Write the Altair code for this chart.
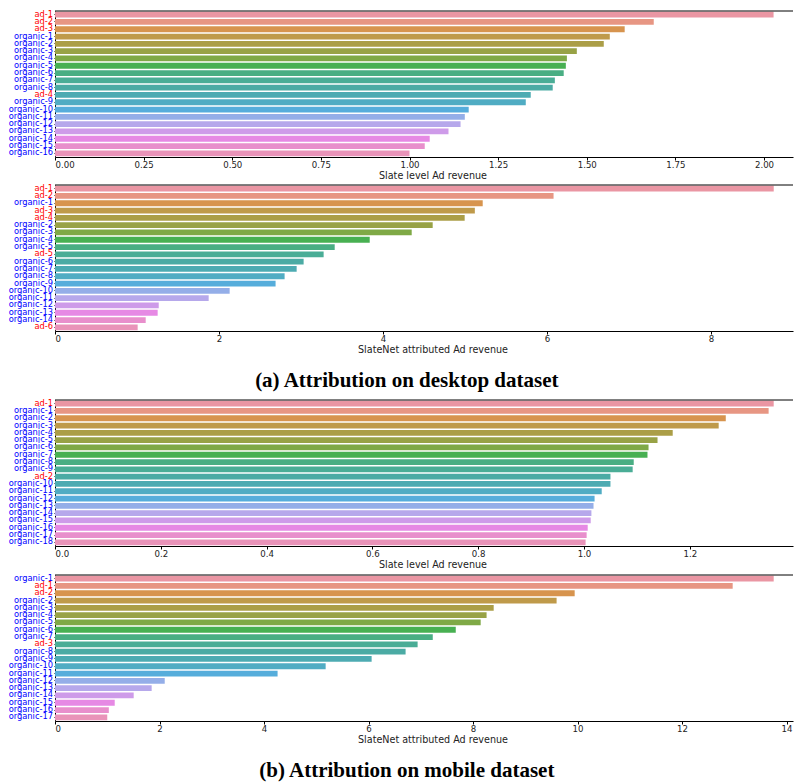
import math
import colorsys
import altair as alt
import pandas as pd

# ---------------- data ----------------
p1_labels = ["ad-1", "ad-2", "ad-3", "organic-1", "organic-2", "organic-3", "organic-4",
             "organic-5", "organic-6", "organic-7", "organic-8", "ad-4", "organic-9",
             "organic-10", "organic-11", "organic-12", "organic-13", "organic-14",
             "organic-15", "organic-16"]
p1_values = [2.027, 1.689, 1.607, 1.565, 1.548, 1.472, 1.444, 1.441, 1.435, 1.410,
             1.404, 1.342, 1.328, 1.167, 1.156, 1.144, 1.110, 1.057, 1.043, 1.000]

p2_labels = ["ad-1", "ad-2", "organic-1", "ad-3", "ad-4", "organic-2", "organic-3",
             "organic-4", "organic-5", "ad-5", "organic-6", "organic-7", "organic-8",
             "organic-9", "organic-10", "organic-11", "organic-12", "organic-13",
             "organic-14", "ad-6"]
p2_values = [8.765, 6.08, 5.216, 5.12, 4.996, 4.606, 4.35, 3.838, 3.411, 3.276,
             3.032, 2.947, 2.80, 2.69, 2.13, 1.874, 1.265, 1.252, 1.106, 1.008]

p3_labels = ["ad-1", "organic-1", "organic-2", "organic-3", "organic-4", "organic-5",
             "organic-6", "organic-7", "organic-8", "organic-9", "ad-2", "organic-10",
             "organic-11", "organic-12", "organic-13", "organic-14", "organic-15",
             "organic-16", "organic-17", "organic-18"]
p3_values = [1.3586, 1.349, 1.268, 1.2546, 1.1677, 1.139, 1.122, 1.120, 1.094, 1.092,
             1.050, 1.050, 1.0335, 1.020, 1.018, 1.014, 1.0127, 1.007, 1.005, 1.003]

p4_labels = ["organic-1", "ad-1", "ad-2", "organic-2", "organic-3", "organic-4",
             "organic-5", "organic-6", "organic-7", "ad-3", "organic-8", "organic-9",
             "organic-10", "organic-11", "organic-12", "organic-13", "organic-14",
             "organic-15", "organic-16", "organic-17"]
p4_values = [13.755, 12.97, 9.946, 9.60, 8.396, 8.26, 8.147, 7.67, 7.23, 6.94,
             6.71, 6.06, 5.18, 4.26, 2.10, 1.85, 1.506, 1.143, 1.03, 1.0]

p1_ticks = [0, 0.25, 0.5, 0.75, 1.0, 1.25, 1.5, 1.75, 2.0]
p2_ticks = [0, 2, 4, 6, 8]
p3_ticks = [0, 0.2, 0.4, 0.6, 0.8, 1.0, 1.2, 1.4]
p4_ticks = [0, 2, 4, 6, 8, 10, 12, 14]

title_slate = "Slate level Ad revenue"
title_net = "SlateNet attributed Ad revenue"
caption_a = "(a) Attribution on desktop dataset"
caption_b = "(b) Attribution on mobile dataset"

# ---------------- husl palette (seaborn style) ----------------
_M = [[3.2406, -1.5372, -0.4986],
      [-0.9689, 1.8758, 0.0415],
      [0.0557, -0.2040, 1.0570]]
_refU, _refV = 0.19784, 0.46834


def _max_chroma(L, H):
    hrad = math.radians(H)
    sinH, cosH = math.sin(hrad), math.cos(hrad)
    sub1 = ((L + 16) ** 3) / 1560896.0
    sub2 = sub1 if sub1 > 0.008856 else L / 903.3
    result = float("inf")
    for m1, m2, m3 in _M:
        top = (0.99915 * m1 + 1.05122 * m2 + 1.14460 * m3) * sub2
        rbottom = 0.86330 * m3 - 0.17266 * m2
        lbottom = 0.12949 * m3 - 0.38848 * m1
        bottom = (rbottom * sinH + lbottom * cosH) * sub2
        for t in (0.0, 1.0):
            C = L * (top - 1.05122 * t) / (bottom + 0.17266 * sinH * t)
            if 0.0 < C < result:
                result = C
    return result


def _husl_to_rgb(H, S, L):
    C = _max_chroma(L, H) / 100.0 * S
    hr = math.radians(H)
    U, V = math.cos(hr) * C, math.sin(hr) * C
    t = (L + 16.0) / 116.0
    varY = t ** 3 if t ** 3 > 0.008856 else (116.0 * t - 16.0) / 903.3
    varU = U / (13.0 * L) + _refU
    varV = V / (13.0 * L) + _refV
    Y = varY
    X = 0.0 - (9.0 * Y * varU) / ((varU - 4.0) * varV - varU * varV)
    Z = (9.0 * Y - (15.0 * varV * Y) - (varV * X)) / (3.0 * varV)
    out = []
    for row in _M:
        c = row[0] * X + row[1] * Y + row[2] * Z
        c = 12.92 * c if c <= 0.0031308 else 1.055 * c ** (1 / 2.4) - 0.055
        out.append(min(max(c, 0.0), 1.0))
    return out


def husl_palette(n, h=0.01, s=0.9, l=0.7, sat=0.75):
    cols = []
    for i in range(n):
        hue = ((i / n + h) % 1) * 359
        r, g, b = _husl_to_rgb(hue, s * 99, l * 99)
        hh, ll, ss = colorsys.rgb_to_hls(r, g, b)
        r, g, b = colorsys.hls_to_rgb(hh, ll, ss * sat)
        cols.append("#%02x%02x%02x" % tuple(int(round(v * 255)) for v in (r, g, b)))
    return cols


# ---------------- chart ----------------
W = 738
H = 146
TITLE_X = 377.5

label_color = {"condition": {"test": "indexof(datum.value, 'ad-') === 0", "value": "#ff0000"},
               "value": "#0000ff"}


def panel(labels, values, xmax, ticks, fmt, title):
    df = pd.DataFrame({"label": labels, "value": values})
    pal = husl_palette(len(labels))
    bars = alt.Chart(df).mark_bar().encode(
        x=alt.X("value:Q",
                scale=alt.Scale(domain=[0, xmax], nice=False, zero=True),
                axis=alt.Axis(values=ticks, format=fmt, title=title, titleX=TITLE_X,
                              grid=False)),
        y=alt.Y("label:N", sort=labels,
                scale=alt.Scale(paddingInner=0.2, paddingOuter=0.1),
                axis=alt.Axis(title=None, labelColor=label_color, grid=False)),
        color=alt.Color("label:N", scale=alt.Scale(domain=labels, range=pal), legend=None),
    )
    top = alt.Chart(pd.DataFrame({"v": [0]})).mark_rule(color="black", strokeWidth=1).encode(
        x=alt.value(0), x2=alt.value(W), y=alt.value(0)
    )
    return alt.layer(bars, top).properties(width=W, height=H)


p1 = panel(p1_labels, p1_values, W / 354.5, p1_ticks, ".2f", title_slate)
p2 = panel(p2_labels, p2_values, W / 82.0, p2_ticks, "d", title_net)
p3 = panel(p3_labels, p3_values, W / 529.0, p3_ticks, ".1f", title_slate)
p4 = panel(p4_labels, p4_values, W / 52.25, p4_ticks, "d", title_net)

cap_style = dict(orient="bottom", anchor="middle", font="Liberation Serif", fontSize=21,
                 fontWeight="bold", color="black", offset=16, dx=6)

group_a = alt.vconcat(p1, p2, spacing=2).resolve_scale(color="independent").properties(
    title=alt.TitleParams(caption_a, **cap_style))
group_b = alt.vconcat(p3, p4, spacing=3).resolve_scale(color="independent").properties(
    title=alt.TitleParams(caption_b, **cap_style))

chart = alt.vconcat(group_a, group_b, spacing=6).resolve_scale(color="independent").properties(
    padding={"left": 0, "top": 1, "right": 0, "bottom": 0}
).configure_view(stroke=None).configure_axis(
    labelFont="DejaVu Sans", labelFontSize=8.6, labelColor="#222222",
    titleFont="DejaVu Sans", titleFontSize=9.6, titleFontWeight="normal", titleColor="#222222",
    domainColor="black", domainWidth=1, tickColor="black",
).configure_axisX(
    tickSize=3, labelPadding=0.5, titlePadding=1.5,
).configure_axisY(
    tickSize=1, labelPadding=1.5, labelFontSize=8.3,
)

chart.save("out.html", embed_options={"renderer": "svg", "actions": False})
